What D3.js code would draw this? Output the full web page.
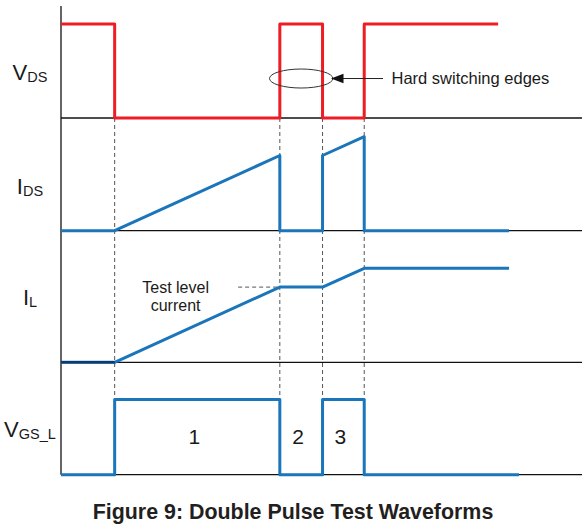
<!DOCTYPE html>
<html>
<head>
<meta charset="utf-8">
<script src="https://cdn.jsdelivr.net/npm/d3@7"></script>
<style>
  body { margin: 0; background: #fff; }
  text { font-family: "Liberation Sans", Arial, sans-serif; fill: #1a1a1a; }
</style>
</head>
<body>
<div id="chart"></div>
<script>
// switching instants (time units) and the waveforms as [t, level] points
const edges = [10.3, 42, 50.2, 58.2];
const vds = [[0, 10], [10.3, 10], [10.3, 0], [42, 0], [42, 10], [50.2, 10], [50.2, 0], [58.2, 0], [58.2, 10], [83.9, 10]];
const ids = [[0, 0], [10.3, 0], [42, 8], [42, 0], [50.2, 0], [50.2, 8], [58.2, 10], [58.2, 0], [86, 0]];
const il = [[0, 0], [10.3, 0], [42, 8], [50.2, 8], [58.2, 10], [86, 10]];
const vgs = [[0, 0], [10.3, 0], [10.3, 8], [42, 8], [42, 0], [50.2, 0], [50.2, 8], [58.2, 8], [58.2, 0], [87.9, 0]];
const periods = ['1', '2', '3'];
const testLevel = 8;

const width = 588, height = 528;
const svg = d3.select('#chart').append('svg')
    .attr('width', width)
    .attr('height', height);

// time axis shared by all four traces
let x = d3.scaleLinear().domain([0, 100]).range([61, 582]);

// each trace gets its own baseline, same amplitude scale
let panels = [
    {name: 'V', sub: 'DS', data: vds, base: 118, color: '#ee1c24', labelY: 79.5},
    {name: 'I', sub: 'DS', data: ids, base: 230.7, color: '#1b75bb', labelY: 193.5},
    {name: 'I', sub: 'L', data: il, base: 362.3, color: '#1b75bb', labelY: 304.5},
    {name: 'V', sub: 'GS_L', data: vgs, base: 474.7, color: '#1b75bb', labelY: 437}
];
panels.forEach(p => {
    p.y = d3.scaleLinear().domain([0, 10]).range([p.base, p.base - 94]);
});

// vertical axis line
svg.append('line')
    .attr('x1', x(0)).attr('x2', x(0))
    .attr('y1', 6).attr('y2', panels[3].base)
    .attr('stroke', '#111')
    .attr('stroke-width', 1.3);

// baselines
svg.selectAll('line.base')
    .data(panels)
    .enter().append('line')
    .attr('class', 'base')
    .attr('x1', x(0)).attr('x2', x(100))
    .attr('y1', d => d.base).attr('y2', d => d.base)
    .attr('stroke', '#111')
    .attr('stroke-width', 1.3);

// dashed guides at each switching edge
svg.selectAll('line.guide')
    .data(edges)
    .enter().append('line')
    .attr('class', 'guide')
    .attr('x1', d => x(d)).attr('x2', d => x(d))
    .attr('y1', panels[0].base)
    .attr('y2', panels[3].y(8))
    .attr('stroke', '#555')
    .attr('stroke-width', 1)
    .attr('stroke-dasharray', '4,3');

// test level marker
svg.append('line')
    .attr('x1', x(34)).attr('x2', x(edges[1]))
    .attr('y1', panels[2].y(testLevel)).attr('y2', panels[2].y(testLevel))
    .attr('stroke', '#555')
    .attr('stroke-width', 1)
    .attr('stroke-dasharray', '4,3');

// waveforms
panels.forEach(p => {
    let line = d3.line()
        .x(d => x(d[0]))
        .y(d => p.y(d[1]));
    svg.append('path')
        .attr('d', line(p.data))
        .attr('fill', 'none')
        .attr('stroke', p.color)
        .attr('stroke-width', 3)
        .attr('stroke-linejoin', 'round');
});

// the flat start of I_L reads darker in the original
svg.append('line')
    .attr('x1', x(il[0][0])).attr('x2', x(il[1][0]))
    .attr('y1', panels[2].y(0)).attr('y2', panels[2].y(0))
    .attr('stroke', '#0d3a6b')
    .attr('stroke-width', 2.5);

// trace labels
let labels = svg.selectAll('text.lbl')
    .data(panels)
    .enter().append('text')
    .attr('class', 'lbl')
    .attr('x', 30)
    .attr('y', d => d.labelY)
    .attr('text-anchor', 'middle')
    .style('font-size', '22px');
labels.append('tspan').text(d => d.name);
labels.append('tspan')
    .attr('dy', 2)
    .style('font-size', '14.5px')
    .text(d => d.sub);

// test level text
let tl = svg.append('text')
    .attr('x', x(22))
    .attr('text-anchor', 'middle')
    .style('font-size', '16px');
tl.append('tspan').attr('x', x(22)).attr('y', 292.5).text('Test level');
tl.append('tspan').attr('x', x(22)).attr('y', 311).text('current');

// period numbers in the gate trace
let mids = periods.map((d, i) => (edges[i] + edges[i + 1]) / 2);
svg.selectAll('text.period')
    .data(periods)
    .enter().append('text')
    .attr('class', 'period')
    .attr('x', (d, i) => x(mids[i]) - 3)
    .attr('y', 444)
    .attr('text-anchor', 'middle')
    .style('font-size', '21px')
    .text(d => d);

// hard switching annotation
let ex = x((edges[1] + edges[2]) / 2), ey = panels[0].y(4.2);
svg.append('ellipse')
    .attr('cx', ex).attr('cy', ey)
    .attr('rx', 31.7).attr('ry', 9.5)
    .attr('fill', 'none')
    .attr('stroke', '#333')
    .attr('stroke-width', 1);
svg.append('line')
    .attr('x1', 343).attr('x2', 383)
    .attr('y1', ey).attr('y2', ey)
    .attr('stroke', '#222')
    .attr('stroke-width', 1);
svg.append('path')
    .attr('d', `M ${331} ${ey} L ${343.5} ${ey - 4.8} L ${343.5} ${ey + 4.8} Z`)
    .attr('fill', '#111');
svg.append('text')
    .attr('x', 391.5)
    .attr('y', ey + 5.5)
    .style('font-size', '16.5px')
    .text('Hard switching edges');

// caption
svg.append('text')
    .attr('x', 293)
    .attr('y', 519)
    .attr('text-anchor', 'middle')
    .style('font-size', '21.4px')
    .style('font-weight', 'bold')
    .style('fill', '#231f20')
    .text('Figure 9: Double Pulse Test Waveforms');
</script>
</body>
</html>
